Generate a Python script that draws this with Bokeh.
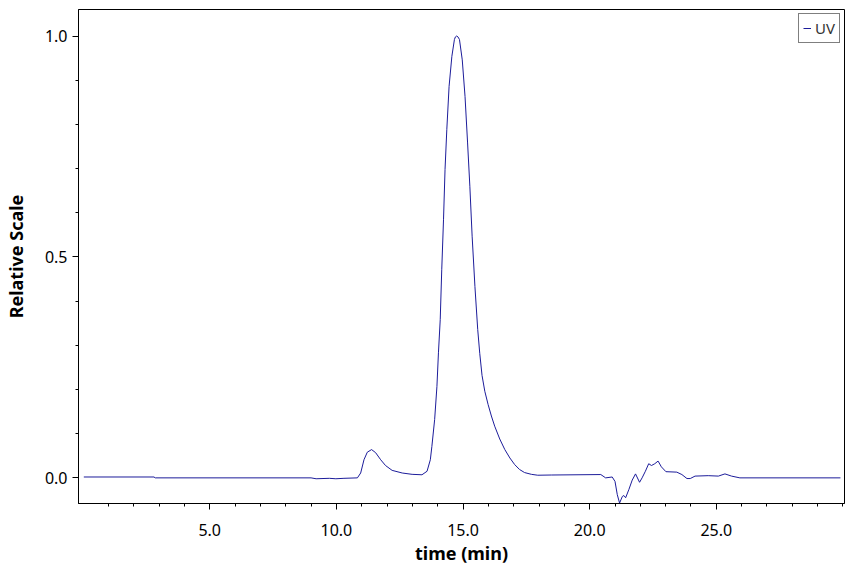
from bokeh.plotting import figure
from bokeh.models import Range1d, FixedTicker, Legend, LegendItem, ColumnDataSource
from bokeh.embed import file_html
from bokeh.resources import INLINE

# Chromatogram (UV, relative scale)
time_min = [0.03, 2.8, 2.85, 9.0, 9.2, 9.72, 9.98, 10.3, 10.83, 10.96, 11.09, 11.22, 11.39,
            11.55, 11.75, 11.94, 12.2, 12.6, 12.99, 13.38, 13.58, 13.71, 13.77, 13.88, 13.97,
            14.03, 14.10, 14.16, 14.23, 14.29, 14.36, 14.45, 14.56, 14.66, 14.70, 14.75, 14.80,
            14.86, 14.97, 15.08, 15.18, 15.27, 15.36, 15.47, 15.58, 15.66, 15.75, 15.86, 15.99,
            16.12, 16.25, 16.45, 16.65, 16.85, 17.04, 17.23, 17.43, 17.7, 17.95, 18.5, 20.44,
            20.63, 20.89, 21.0, 21.09, 21.18, 21.29, 21.35, 21.42, 21.55, 21.68, 21.81, 21.97,
            22.07, 22.2, 22.33, 22.44, 22.57, 22.7, 22.83, 23.01, 23.44, 23.64, 23.84, 23.97,
            24.16, 24.68, 25.08, 25.34, 25.6, 25.93, 29.9]
uv_signal = [0.002, 0.002, 0.0, 0.0, -0.002, -0.001, -0.002, -0.001, 0.0, 0.011, 0.041, 0.058, 0.064,
             0.057, 0.041, 0.028, 0.017, 0.011, 0.008, 0.007, 0.015, 0.041, 0.071, 0.132, 0.207,
             0.283, 0.358, 0.471, 0.584, 0.698, 0.788, 0.886, 0.954, 0.992, 0.998, 1.0, 0.998,
             0.992, 0.946, 0.863, 0.758, 0.660, 0.547, 0.433, 0.336, 0.282, 0.232, 0.196, 0.166,
             0.140, 0.117, 0.088, 0.064, 0.045, 0.030, 0.019, 0.012, 0.008, 0.006, 0.0065, 0.0075,
             0.0, 0.002, -0.008, -0.038, -0.057, -0.042, -0.040, -0.045, -0.026, -0.005, 0.009, -0.010,
             0.0, 0.015, 0.032, 0.028, 0.032, 0.038, 0.025, 0.014, 0.013, 0.0075, -0.0015, -0.0015,
             0.004, 0.005, 0.004, 0.009, 0.004, 0.0, 0.0]

x_major = [5, 10, 15, 20, 25]
x_minor = list(range(1, 31))
y_major = [0.0, 0.5, 1.0]
y_minor = [round(0.1 * i, 1) for i in range(0, 11)]

FONT = "Noto Sans"
LINE = "#1c1c9a"

p = figure(width=848, height=567, output_backend="svg", toolbar_location=None,
           x_range=Range1d(-0.18, 30.06), y_range=Range1d(-0.058, 1.06),
           min_border_left=73, min_border_right=4, min_border_top=9, min_border_bottom=64)

src = ColumnDataSource(dict(t=time_min, s=uv_signal))
r = p.line("t", "s", source=src, line_color=LINE, line_width=1)

p.xgrid.visible = False
p.ygrid.visible = False
p.outline_line_color = "black"
p.outline_line_width = 1
p.outline_line_alpha = 1
p.background_fill_color = "white"
p.border_fill_color = "white"

p.xaxis.ticker = FixedTicker(ticks=x_major, minor_ticks=x_minor)
p.yaxis.ticker = FixedTicker(ticks=y_major, minor_ticks=y_minor)
p.xaxis.major_label_overrides = {v: f"{v:.1f}" for v in x_major}
p.yaxis.major_label_overrides = {0: "0.0", 0.5: "0.5", 1: "1.0"}

for ax in (p.xaxis[0], p.yaxis[0]):
    ax.axis_line_color = "black"
    ax.major_tick_line_color = "black"
    ax.minor_tick_line_color = "black"
    ax.major_tick_out = 6
    ax.major_tick_in = 0
    ax.minor_tick_out = 3
    ax.minor_tick_in = 0
    ax.major_label_text_font = FONT
    ax.major_label_text_font_size = "16px"
    ax.major_label_text_color = "black"
    ax.axis_label_text_font = FONT
    ax.axis_label_text_font_size = "18px"
    ax.axis_label_text_font_style = "bold"
    ax.axis_label_text_color = "black"

p.xaxis.axis_label = "time (min)"
p.yaxis.axis_label = "Relative Scale"
p.xaxis.major_label_standoff = 14
p.yaxis.major_label_standoff = 5
p.xaxis.axis_label_standoff = 2
p.yaxis.axis_label_standoff = 14

legend = Legend(items=[LegendItem(label="UV", renderers=[r])], location="top_right",
                label_text_font=FONT, label_text_font_size="15px", label_text_color="#333333",
                glyph_width=8, glyph_height=14, label_standoff=4, padding=4, spacing=0,
                margin=4, border_line_color="black", border_line_width=1,
                background_fill_color="white", background_fill_alpha=1,
                label_height=14)
p.add_layout(legend)

open("out.html", "w").write(file_html(p, INLINE))
